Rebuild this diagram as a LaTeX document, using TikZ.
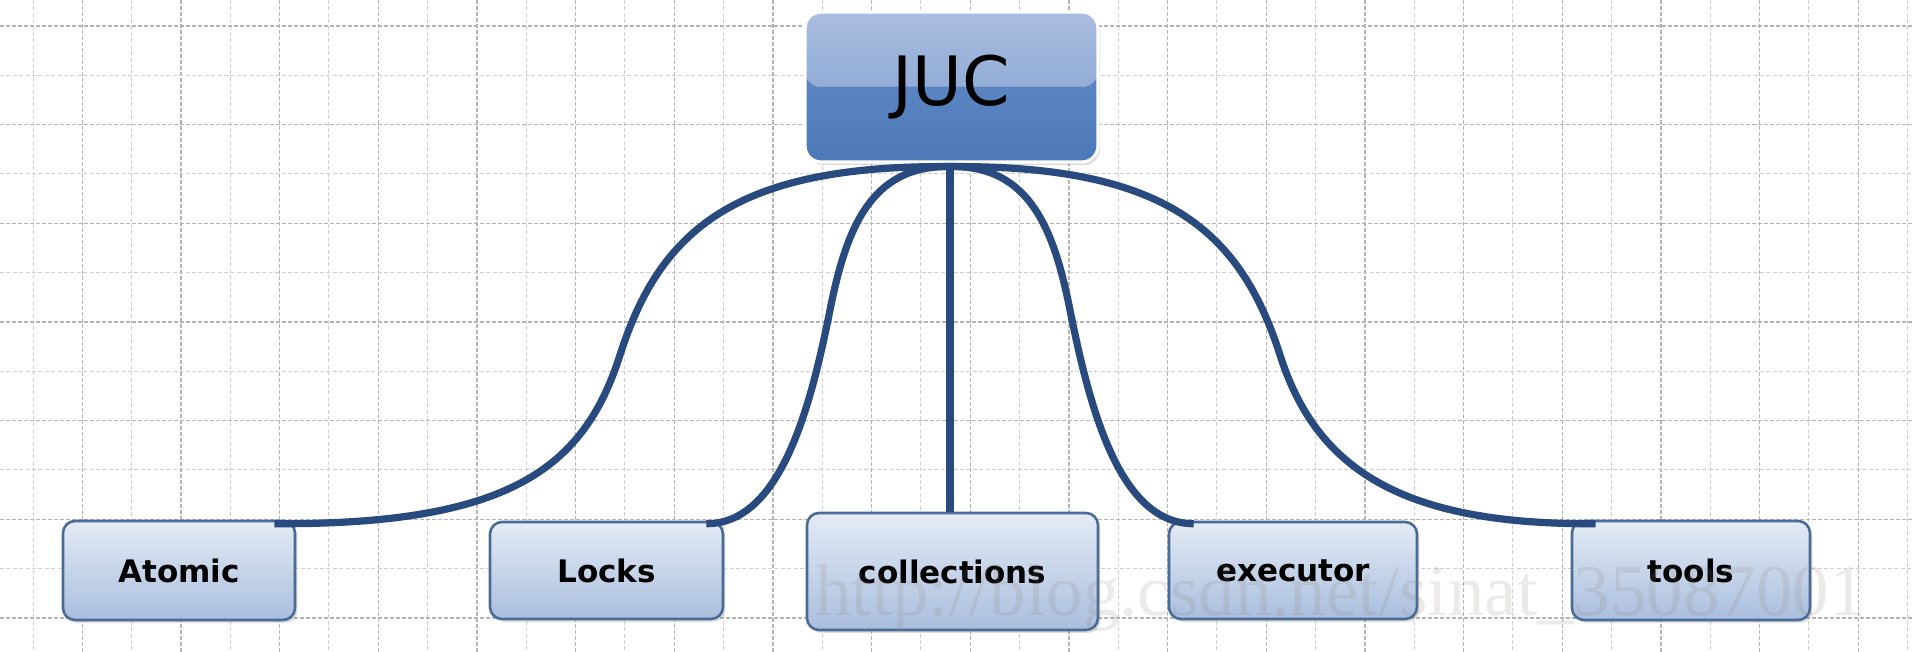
\documentclass[tikz,border=0pt]{standalone}
\usepackage{fontspec}
\setmainfont{DejaVu Sans}
\newfontfamily\wmfont{Liberation Serif}
\usetikzlibrary{shadows,calc}
\definecolor{linec}{HTML}{284A7E}
\definecolor{leaftop}{HTML}{E4EBF5}
\definecolor{leafbot}{HTML}{A9BEDD}
\definecolor{leafborder}{HTML}{4A6B98}
\definecolor{juctop}{HTML}{A9BDDF}
\definecolor{jucmid}{HTML}{7E9DCE}
\definecolor{jucbota}{HTML}{5A84C2}
\definecolor{jucbotb}{HTML}{4E79B8}
\definecolor{gridmaj}{HTML}{B4B4B4}
\definecolor{gridmin}{HTML}{CFCFCF}
\definecolor{wmc}{HTML}{8A8078}
\tikzset{
  gridmajor/.style={draw=gridmaj, line width=0.6pt, dash pattern=on 2pt off 1pt},
  gridminor/.style={draw=gridmin, line width=0.5pt, dash pattern=on 2pt off 1.2pt},
  leaf/.style={draw=leafborder, line width=1.3pt, rounded corners=6pt,
    top color=leaftop, bottom color=leafbot, inner sep=0pt,
    font=\bfseries\fontsize{15.5}{18}\selectfont,
    drop shadow={opacity=0.25, shadow xshift=1.2pt, shadow yshift=-1.5pt}},
  root/.style={draw=white, line width=1.6pt, rounded corners=8pt, fill=jucbota,
    inner sep=0pt, font=\fontsize{34}{40}\selectfont,
    drop shadow={opacity=0.3, shadow xshift=1pt, shadow yshift=-1.5pt},
    path picture={
      \fill[top color=juctop, bottom color=jucmid]
        (path picture bounding box.north west) rectangle (path picture bounding box.east);
      \fill[top color=jucbota, bottom color=jucbotb]
        (path picture bounding box.west) rectangle (path picture bounding box.south east);
    }},
  conn/.style={draw=linec, line width=3.6pt},
  wm/.style={font=\wmfont\fontsize{36.5}{40}\selectfont, text=wmc, text opacity=0.16, inner sep=0pt}
}
\begin{document}
\begin{tikzpicture}[x=0.5pt,y=-0.5pt]
\useasboundingbox (0,0) rectangle (1912,652);
\fill[white] (0,0) rectangle (1912,652);
% grid
\foreach \i [evaluate=\i as \gx using 33+49.33*\i] in {0,...,38} {
  \ifodd\i \draw[gridmajor] (\gx,0) -- (\gx,652); \else \draw[gridminor] (\gx,0) -- (\gx,652); \fi
}
\foreach \j [evaluate=\j as \gy using 26+49.33*\j] in {0,...,12} {
  \ifodd\j \draw[gridminor] (0,\gy) -- (1912,\gy); \else \draw[gridmajor] (0,\gy) -- (1912,\gy); \fi
}
% nodes
\node[root, minimum width=146.5pt, minimum height=75pt] (juc) at (951.5,87) {JUC};
\node[leaf, minimum width=116pt, minimum height=49.5pt] (atomic) at (179,570.5) {Atomic};
\node[leaf, minimum width=116.5pt, minimum height=48.5pt] (locks) at (606.5,570.5) {Locks};
\node[leaf, minimum width=145.5pt, minimum height=58.5pt] (coll) at (952.5,571.5) {collections};
\node[leaf, minimum width=124pt, minimum height=48.5pt] (exec) at (1293,570.5) {executor};
\node[leaf, minimum width=119pt, minimum height=49.5pt] (tools) at (1691,570.5) {tools};
% connector end points
\coordinate (hub) at ($(juc.south)+(-1.5,3)$);
\coordinate (aEnd) at ($(atomic.north east)+(-22,4)$);
\coordinate (lEnd) at ($(locks.north east)+(-18,3)$);
\coordinate (eEnd) at ($(exec.north west)+(26,3)$);
\coordinate (tEnd) at ($(tools.north west)+(25,4)$);
% connectors
\draw[conn] (aEnd) .. controls (510,525) and (584,468) .. (620,355)
            .. controls (660,230) and (735,165) .. (hub);
\draw[conn] (lEnd) .. controls (780,524) and (810,410) .. (830,310)
            .. controls (846,230) and (870,165) .. (hub);
\draw[conn] (hub) -- (hub |- coll.north);
\draw[conn] (hub) .. controls (1030,165) and (1054,230) .. (1070,310)
            .. controls (1090,410) and (1120,524) .. (eEnd);
\draw[conn] (hub) .. controls (1165,165) and (1240,230) .. (1280,355)
            .. controls (1316,468) and (1400,525) .. (tEnd);
% watermark
\node[wm, anchor=base west] (wmark) at (815,615) {http://blog.csdn.net/sinat\_35087001};
\end{tikzpicture}
\end{document}
